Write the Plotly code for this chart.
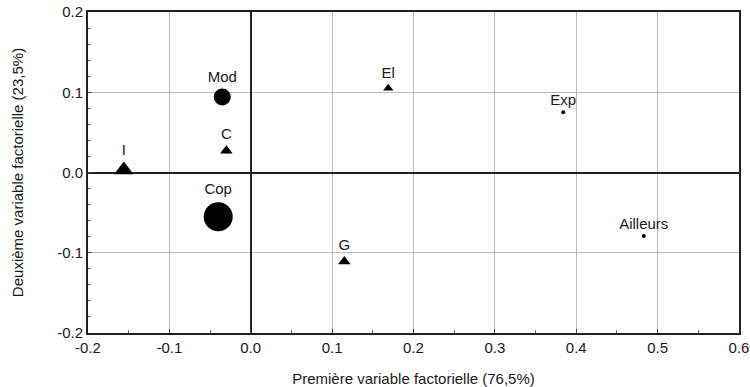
import plotly.graph_objects as go

circle_labels = ["Mod", "Cop"]
circle_x = [-0.035, -0.040]
circle_y = [0.094, -0.055]
circle_size = [17, 29]

tri_labels = ["I", "C", "El", "G"]
tri_x = [-0.156, -0.030, 0.169, 0.115]
tri_y = [0.003, 0.027, 0.105, -0.111]
tri_size = [17, 11, 9, 11]

dot_labels = ["Exp", "Ailleurs"]
dot_x = [0.384, 0.483]
dot_y = [0.075, -0.079]
dot_size = [4, 4]

x_ticks = [-0.2, -0.1, 0.0, 0.1, 0.2, 0.3, 0.4, 0.5, 0.6]
x_tick_text = ["-0.2", "-0.1", "0.0", "0.1", "0.2", "0.3", "0.4", "0.5", "0.6"]
y_ticks = [-0.2, -0.1, 0.0, 0.1, 0.2]
y_tick_text = ["-0.2", "-0.1", "0.0", "0.1", "0.2"]

font = dict(family="Liberation Sans, Arial, sans-serif", size=15, color="#1a1a1a")
tfont = dict(family="Liberation Sans, Arial, sans-serif", size=15, color="#1a1a1a")

fig = go.Figure()
for xs, ys, labels, sizes, sym in [
    (circle_x, circle_y, circle_labels, circle_size, "circle"),
    (tri_x, tri_y, tri_labels, tri_size, "triangle-up"),
    (dot_x, dot_y, dot_labels, dot_size, "circle"),
]:
    fig.add_trace(go.Scatter(x=xs, y=ys, mode="markers+text", text=labels,
                             textposition="top center", textfont=font,
                             marker=dict(symbol=sym, size=sizes, color="black", opacity=1,
                                         line=dict(width=0))))

axis_common = dict(showgrid=True, gridcolor="#bdbdbd", gridwidth=1,
                   zeroline=True, zerolinecolor="#222", zerolinewidth=2,
                   showline=True, linecolor="#222", linewidth=2, mirror=True,
                   ticks="inside", ticklen=4, tickcolor="#444",
                   minor=dict(ticks="inside", ticklen=3, tickcolor="#666", nticks=4, showgrid=False),
                   tickfont=font, automargin=False, ticklabeloverflow="allow")

fig.update_layout(
    width=750, height=387,
    margin=dict(l=88, r=11, t=12, b=54),
    plot_bgcolor="white", paper_bgcolor="white",
    showlegend=False,
    font=font,
    xaxis=dict(range=[-0.2, 0.6], tickvals=x_ticks, ticktext=x_tick_text,
               title=dict(text="Première variable factorielle (76,5%)", font=tfont, standoff=18),
               **axis_common),
    yaxis=dict(range=[-0.2, 0.2], tickvals=y_ticks, ticktext=y_tick_text,
               title=dict(text="Deuxième variable factorielle (23,5%)", font=tfont, standoff=30),
               **axis_common),
)

fig.write_html("out.html", config={"displayModeBar": False},
               post_script="document.body.style.margin='0';document.body.style.overflow='hidden';")
